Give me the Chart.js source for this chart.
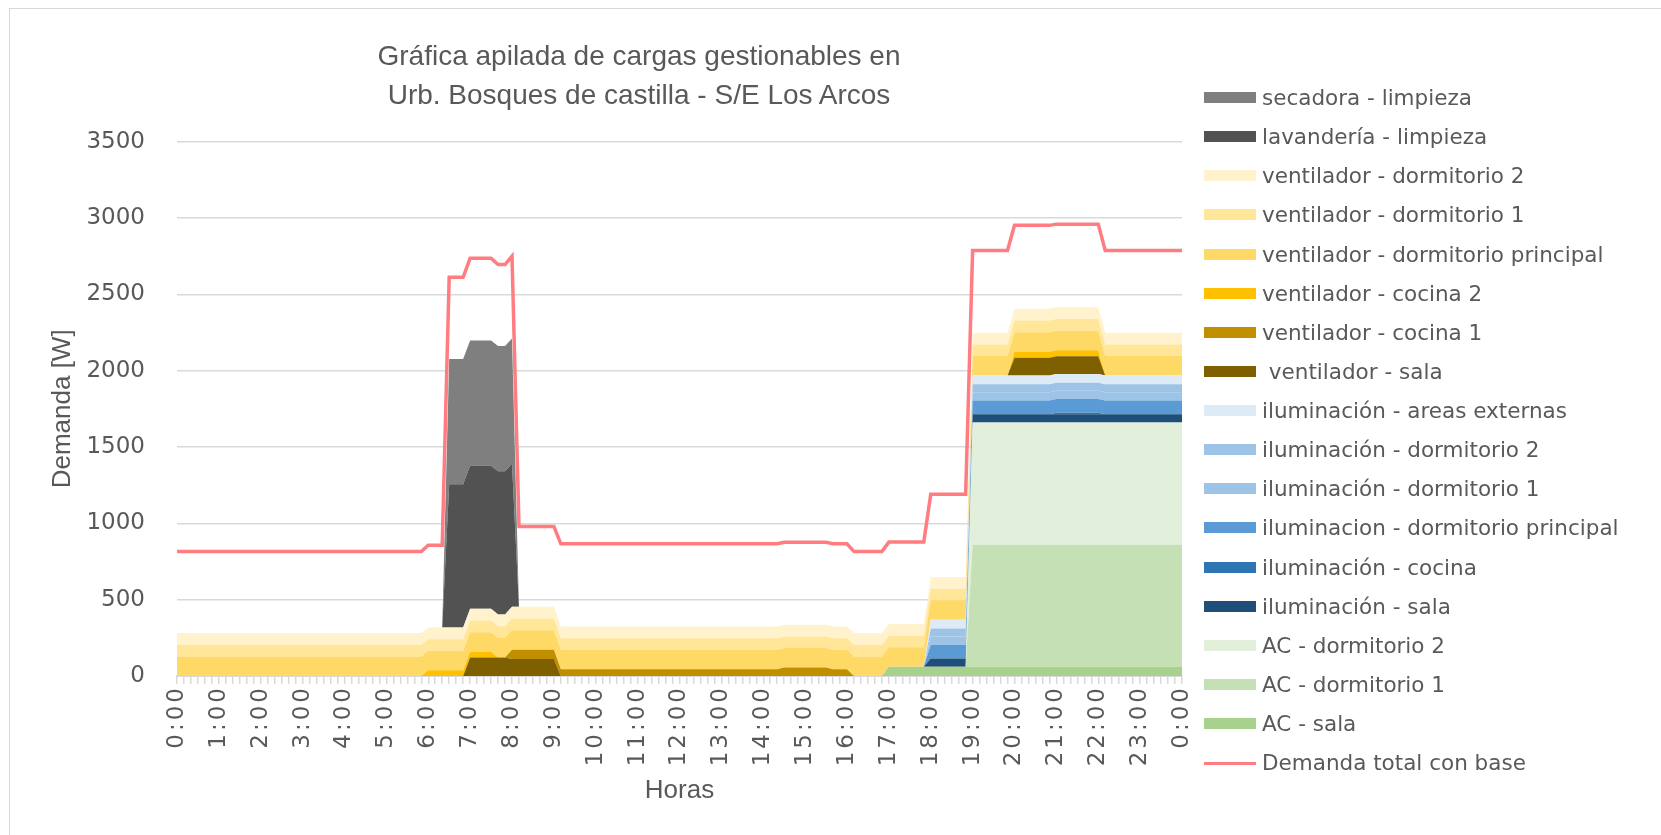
<!DOCTYPE html>
<html lang="es">
<head>
<meta charset="utf-8">
<title>Gráfica apilada de cargas gestionables</title>
<script src="https://cdn.jsdelivr.net/npm/chart.js@4.4.1/dist/chart.umd.min.js"></script>
<style>
    html, body { margin: 0; padding: 0; background: #fff; }
    #wrap { position: relative; width: 1661px; height: 835px; overflow: hidden; background: #fff; }
    #marco { position: absolute; left: 9px; top: 8px; width: 1700px; height: 900px; border: 1.5px solid #d9d9d9; box-sizing: border-box; }
    #grafica { position: absolute; left: 0; top: 0; }
    #titulo { position: absolute; left: 339px; width: 600px; top: 36px; text-align: center;
              font: 28px/39px "Liberation Sans", Arial, sans-serif; color: #595959; }
    #leyenda { position: absolute; left: 1204px; top: 0; font: 21.5px "DejaVu Sans", sans-serif; color: #595959; }
    .item { position: absolute; left: 0; height: 39px; display: flex; align-items: center; white-space: pre; }
    .muestra { width: 52px; height: 11px; margin-right: 6px; flex: none; }
    .muestra.linea { height: 3px; margin-top: 1px; }
</style>
</head>
<body>
<div id="wrap">
    <div id="marco"></div>
    <canvas id="grafica" width="1661" height="835"></canvas>
    <div id="titulo">Gráfica apilada de cargas gestionables en<br>Urb. Bosques de castilla - S/E Los Arcos</div>
    <div id="leyenda"></div>
</div>
<script>
// pasos de 10 minutos, 0:00 -> 0:00 (145 puntos)
function tramos() {
    const out = [];
    for (const [n, v] of arguments) {
        for (let k = 0; k < n; k++) out.push(v);
    }
    return out;
}

const categorias = [];
for (let m = 0; m <= 24 * 60; m += 10) {
    categorias.push((Math.floor(m / 60) % 24) + ':' + String(m % 60).padStart(2, '0'));
}
const etiquetasHora = ['0:00', '1:00', '2:00', '3:00', '4:00', '5:00', '6:00', '7:00', '8:00', '9:00',
    '10:00', '11:00', '12:00', '13:00', '14:00', '15:00', '16:00', '17:00', '18:00', '19:00',
    '20:00', '21:00', '22:00', '23:00', '0:00'];

// valores [W], como tramos [cantidad de pasos, valor]
const acSala = tramos([102, 0], [43, 60]);
const acDorm1 = tramos([114, 0], [31, 800]);
const acDorm2 = tramos([114, 0], [31, 800]);
const ilSala = tramos([108, 0], [37, 55]);
const ilCocina = tramos([126, 0], [7, 10], [12, 0]);
const ilDormPrincipal = tramos([108, 0], [37, 90]);
const ilDorm1 = tramos([108, 0], [37, 54]);
const ilDorm2 = tramos([108, 0], [37, 52]);
const ilExternas = tramos([108, 0], [37, 57]);
const ventSala = tramos([42, 0], [6, 122], [7, 112], [65, 0], [13, 116], [12, 0]);
const ventCocina1 = tramos([48, 0], [7, 60], [32, 44], [7, 55], [3, 44], [48, 0]);
const ventCocina2 = tramos([36, 0], [10, 37], [74, 0], [13, 40], [12, 0]);
const ventDormPrincipal = tramos([145, 128]);
const ventDorm1 = tramos([145, 76]);
const ventDorm2 = tramos([145, 77]);
const lavanderia = tramos([39, 0], [10, 938], [96, 0]);
const secadora = tramos([39, 0], [10, 820], [96, 0]);
const demandaTotal = tramos([36, 815], [3, 857], [3, 2612], [4, 2737], [2, 2695], [1, 2750], [6, 980],
    [32, 866], [7, 876], [3, 866], [5, 815], [6, 877], [6, 1191], [6, 2788], [6, 2952], [7, 2960], [12, 2788]);

// de abajo hacia arriba en la pila
const capas = [
    ['AC - sala', acSala, '#A9D18E'],
    ['AC - dormitorio 1', acDorm1, '#C5E0B4'],
    ['AC - dormitorio 2', acDorm2, '#E2EFDA'],
    ['iluminación - sala', ilSala, '#1F4E79'],
    ['iluminación - cocina', ilCocina, '#2E75B6'],
    ['iluminacion - dormitorio principal', ilDormPrincipal, '#5B9BD5'],
    ['iluminación - dormitorio 1', ilDorm1, '#9DC3E6'],
    ['iluminación - dormitorio 2', ilDorm2, '#9DC3E6'],
    ['iluminación - areas externas', ilExternas, '#DDEBF7'],
    [' ventilador - sala', ventSala, '#7F6000'],
    ['ventilador - cocina 1', ventCocina1, '#BF8F00'],
    ['ventilador - cocina 2', ventCocina2, '#FFC000'],
    ['ventilador - dormitorio principal', ventDormPrincipal, '#FFD966'],
    ['ventilador - dormitorio 1', ventDorm1, '#FFE699'],
    ['ventilador - dormitorio 2', ventDorm2, '#FFF2CC'],
    ['lavandería - limpieza', lavanderia, '#525252'],
    ['secadora - limpieza', secadora, '#7F7F7F']
];

const datasets = capas.map(function (c, i) {
    return {
        label: c[0],
        data: c[1],
        backgroundColor: c[2],
        borderColor: 'rgba(0,0,0,0)',
        borderWidth: 0,
        fill: i === 0 ? 'origin' : '-1',
        stack: 'cargas',
        pointRadius: 0
    };
});
datasets.push({
    label: 'Demanda total con base',
    data: demandaTotal,
    borderColor: '#FF7C80',
    backgroundColor: '#FF7C80',
    borderWidth: 3.5,
    fill: false,
    stack: 'demanda',
    order: -1,
    pointRadius: 0
});

const textoGris = '#595959';
const padding = { left: 20, right: 479, top: 130, bottom: 20 };

// las etiquetas de horas del original van espaciadas
const espaciadoHoras = {
    id: 'espaciadoHoras',
    afterLayout: function (chart) {
        const xs = chart.scales.x;
        if (!xs || xs._espaciado) return;
        const original = xs.drawLabels;
        xs.drawLabels = function (area) {
            const c = this.ctx;
            c.save();
            c.letterSpacing = '3px';
            original.call(this, area);
            c.restore();
        };
        xs._espaciado = true;
    }
};

const chart = new Chart(document.getElementById('grafica').getContext('2d'), {
    type: 'line',
    data: { labels: categorias, datasets: datasets },
    plugins: [espaciadoHoras],
    options: {
        responsive: false,
        animation: false,
        devicePixelRatio: 1,
        layout: { padding: padding },
        elements: { line: { tension: 0 }, point: { radius: 0 } },
        plugins: {
            legend: { display: false },
            tooltip: { enabled: false },
            title: { display: false }
        },
        scales: {
            x: {
                grid: { drawOnChartArea: false, color: '#d9d9d9', lineWidth: 1.5, tickLength: 8 },
                border: { color: '#d9d9d9', width: 2 },
                ticks: {
                    autoSkip: false,
                    minRotation: 90,
                    maxRotation: 90,
                    padding: 1,
                    color: textoGris,
                    font: { family: 'DejaVu Sans', size: 23 },
                    callback: function (v, i) { return i % 6 === 0 ? etiquetasHora[i / 6] : ''; }
                },
                title: {
                    display: true, text: 'Horas', color: textoGris,
                    font: { family: 'Liberation Sans', size: 26 },
                    padding: { top: 23, bottom: 0 }
                }
            },
            y: {
                stacked: true,
                min: 0,
                max: 3500,
                grid: { color: '#d9d9d9', lineWidth: 1.5, drawTicks: false },
                border: { display: false },
                ticks: {
                    stepSize: 500,
                    padding: 32,
                    color: textoGris,
                    font: { family: 'DejaVu Sans', size: 23 },
                    callback: function (v) { return String(v); }
                },
                title: {
                    display: true, text: 'Demanda [W]', color: textoGris,
                    font: { family: 'Liberation Sans', size: 26 },
                    padding: { top: 0, bottom: -24 }
                }
            }
        }
    }
});

// ajustar el area de trazado a la del original
const area = chart.chartArea;
padding.left += 177 - area.left;
padding.right += area.right - 1182;
padding.top += 141.7 - area.top;
padding.bottom += area.bottom - 676;
chart.update();

// leyenda: capas de arriba hacia abajo, luego la linea
const leyenda = document.getElementById('leyenda');
const orden = chart.data.datasets.slice(0, capas.length).reverse().concat([chart.data.datasets[capas.length]]);
orden.forEach(function (ds, i) {
    const item = document.createElement('div');
    item.className = 'item';
    item.style.top = (97.5 + 39.13 * i - 19.5) + 'px';
    const muestra = document.createElement('span');
    muestra.className = ds.fill === false ? 'muestra linea' : 'muestra';
    muestra.style.background = ds.fill === false ? ds.borderColor : ds.backgroundColor;
    item.appendChild(muestra);
    item.appendChild(document.createTextNode(ds.label));
    leyenda.appendChild(item);
});
</script>
</body>
</html>
